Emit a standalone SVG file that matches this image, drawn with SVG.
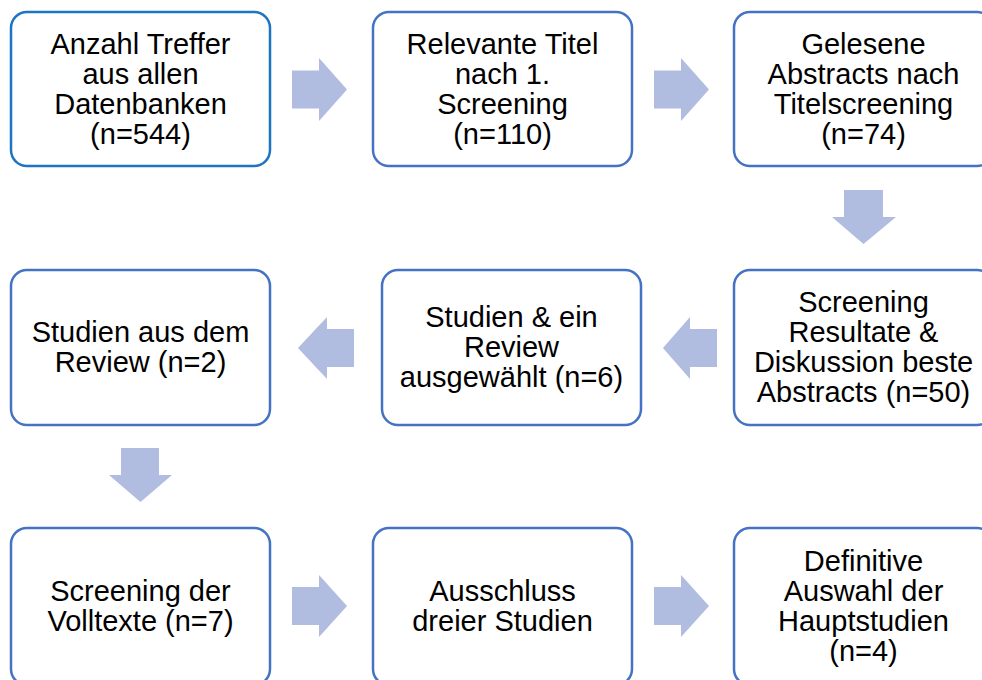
<svg xmlns="http://www.w3.org/2000/svg" width="982" height="680" viewBox="0 0 982 680">
<style>
.box{fill:#fff;stroke:#4472C4;stroke-width:2.5}
.box1{stroke:#1C74C2}
.arr{fill:#B0BCE0}
text{font-family:"Liberation Sans",Arial,sans-serif;font-size:29px;fill:#000;text-anchor:middle}
</style>
<rect width="982" height="680" fill="#fff"/>
<g id="connectors">
<polygon class="arr" points="292,70.5 319,70.5 319,58 347,89.5 319,121 319,108.5 292,108.5"/>
<polygon class="arr" points="654,70.5 681,70.5 681,58 709,89.5 681,121 681,108.5 654,108.5"/>
<polygon class="arr" points="844,190 883,190 883,217 896,217 863.5,244 832,217 844,217"/>
<polygon class="arr" points="717,329 690,329 690,317 663,348 690,379 690,367 717,367"/>
<polygon class="arr" points="354,329 327,329 327,317 298,348 327,379 327,367 354,367"/>
<polygon class="arr" points="121,448 159,448 159,475 172,475 140.5,502 109,475 121,475"/>
<polygon class="arr" points="292,587 319,587 319,575 347,606 319,637 319,625 292,625"/>
<polygon class="arr" points="654,587 681,587 681,575 709,606 681,637 681,625 654,625"/>
</g>
<g id="n1">
<rect class="box box1" x="11" y="12" width="259" height="154" rx="16"/>
<text x="140.5" y="53.5">Anzahl Treffer</text>
<text x="140.5" y="83.5">aus allen</text>
<text x="140.5" y="113.5">Datenbanken</text>
<text x="140.5" y="143.5">(n=544)</text>
</g>
<g id="n2">
<rect class="box" x="373" y="12" width="259" height="154" rx="16"/>
<text x="502.5" y="53.5">Relevante Titel</text>
<text x="502.5" y="83.5">nach 1.</text>
<text x="502.5" y="113.5">Screening</text>
<text x="502.5" y="143.5">(n=110)</text>
</g>
<g id="n3">
<rect class="box" x="734" y="12" width="259" height="154" rx="16"/>
<text x="863.5" y="53.5">Gelesene</text>
<text x="863.5" y="83.5">Abstracts nach</text>
<text x="863.5" y="113.5">Titelscreening</text>
<text x="863.5" y="143.5">(n=74)</text>
</g>
<g id="n4">
<rect class="box" x="734" y="270" width="259" height="155" rx="16"/>
<text x="863.5" y="312">Screening</text>
<text x="863.5" y="342">Resultate &amp;</text>
<text x="863.5" y="372">Diskussion beste</text>
<text x="863.5" y="402">Abstracts (n=50)</text>
</g>
<g id="n5">
<rect class="box" x="382" y="270" width="259" height="155" rx="16"/>
<text x="511.5" y="327">Studien &amp; ein</text>
<text x="511.5" y="357">Review</text>
<text x="511.5" y="387">ausgewählt (n=6)</text>
</g>
<g id="n6">
<rect class="box" x="11" y="270" width="259" height="155" rx="16"/>
<text x="140.5" y="342">Studien aus dem</text>
<text x="140.5" y="372">Review (n=2)</text>
</g>
<g id="n7">
<rect class="box" x="11" y="528" width="259" height="157" rx="16"/>
<text x="140.5" y="601">Screening der</text>
<text x="140.5" y="631">Volltexte (n=7)</text>
</g>
<g id="n8">
<rect class="box" x="373" y="528" width="259" height="157" rx="16"/>
<text x="502.5" y="601">Ausschluss</text>
<text x="502.5" y="631">dreier Studien</text>
</g>
<g id="n9">
<rect class="box" x="734" y="528" width="259" height="157" rx="16"/>
<text x="863.5" y="571">Definitive</text>
<text x="863.5" y="601">Auswahl der</text>
<text x="863.5" y="631">Hauptstudien</text>
<text x="863.5" y="661">(n=4)</text>
</g>
</svg>
